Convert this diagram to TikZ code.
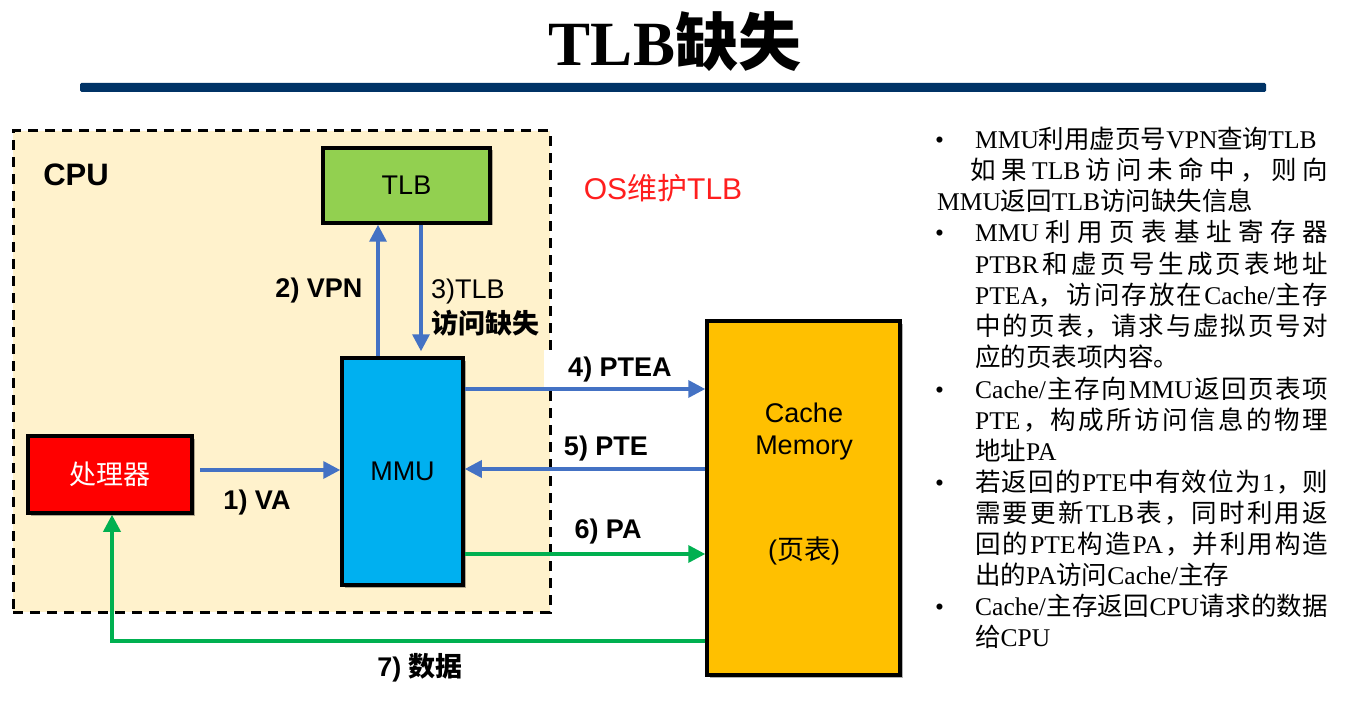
\documentclass[tikz,border=0pt]{standalone}
\usepackage{fontspec}
\setmainfont{Liberation Sans}
\newfontfamily\serif{Liberation Serif}
\newfontfamily\cjk{Noto Sans CJK SC}
\usetikzlibrary{arrows.meta,shadows,calc}
\definecolor{navy}{RGB}{0,51,102}
\definecolor{cream}{RGB}{255,242,204}
\definecolor{tlbgreen}{RGB}{146,208,80}
\definecolor{mmublue}{RGB}{0,176,240}
\definecolor{cacheorange}{RGB}{255,192,0}
\definecolor{arrowblue}{RGB}{68,114,196}
\definecolor{arrowgreen}{RGB}{0,176,80}
\definecolor{osred}{RGB}{255,30,30}
% automatic switch to the CJK font for CJK characters
\XeTeXinterchartokenstate=1
\newXeTeXintercharclass\CJKcls
\makeatletter
\count@="3000
\loop \XeTeXcharclass\count@=\CJKcls \ifnum\count@<"303F \advance\count@ 1 \repeat
\count@="4E00
\loop \XeTeXcharclass\count@=\CJKcls \ifnum\count@<"9FFF \advance\count@ 1 \repeat
\count@="FF01
\loop \XeTeXcharclass\count@=\CJKcls \ifnum\count@<"FF5E \advance\count@ 1 \repeat
\makeatother
\XeTeXinterchartoks 0 \CJKcls = {\begingroup\cjk}
\XeTeXinterchartoks 4095 \CJKcls = {\begingroup\cjk}
\XeTeXinterchartoks \CJKcls 0 = {\endgroup}
\XeTeXinterchartoks \CJKcls 4095 = {\endgroup}
\newcommand\jl[2][353pt]{\makebox[#1][s]{\spaceskip=0pt plus 1fil minus 2pt\xspaceskip=0pt plus 1fil minus 2pt\relax #2}}
\tikzset{
  box/.style={draw=black, line width=3.5pt, inner sep=0pt,
    drop shadow={shadow xshift=2.5pt, shadow yshift=-2.5pt, fill=black, opacity=0.3},
    font=\fontsize{27}{32}\selectfont},
  cpubox/.style={draw=black, fill=cream, line width=3pt, dash pattern=on 10pt off 7pt, inner sep=0pt},
  barrow/.style={draw=arrowblue, line width=3.5pt, -{Triangle[length=17pt,width=17pt]}},
  garrow/.style={draw=arrowgreen, line width=3.5pt, -{Triangle[length=17pt,width=17pt]}},
  lbl/.style={font=\fontsize{27}{32}\selectfont\bfseries, inner sep=0pt},
  lblr/.style={font=\fontsize{27}{32}\selectfont, inner sep=0pt},
  side/.style={font=\serif\fontsize{25.5}{30}\selectfont, inner sep=0pt, anchor=base west},
}
\begin{document}
\begin{tikzpicture}[x=1pt,y=-1pt]
\useasboundingbox (0,0) rectangle (1354,703);
% title
\node[inner sep=0pt, font=\serif\bfseries\fontsize{63}{70}\selectfont] (title) at (675,42) {TLB缺失};
\node[fill=navy, minimum width=1186pt, minimum height=9pt, inner sep=0pt, rounded corners=1.5pt] (bar) at (673,87.5) {};
% CPU area
\node[cpubox, minimum width=537pt, minimum height=481pt] (cpu) at (281.5,371.5) {};
\node[lbl, font=\fontsize{31}{36}\selectfont\bfseries] (cputxt) at (76,175) {CPU};
\node[lbl, fill=white, minimum width=152pt, minimum height=40pt] (l4) at (620,370) {4) PTEA};
% boxes
\node[box, fill=tlbgreen, minimum width=167pt, minimum height=75pt] (tlb) at (406.5,185.5) {TLB};
\node[box, fill=mmublue, minimum width=121pt, minimum height=227pt] (mmu) at (402.5,471.5) {MMU};
\node[box, fill=red, text=white, minimum width=164pt, minimum height=77pt] (proc) at (110,474.5) {处理器};
\node[box, fill=cacheorange, minimum width=193pt, minimum height=354pt] (cache) at (803.5,498) {};
\node[lblr] (ct1) at (804,413) {Cache};
\node[lblr] (ct2) at (804,448) {Memory};
\node[lblr] (ct3) at (804,551) {(页表)};
\node[lblr, text=osred, font=\fontsize{30}{34}\selectfont] (os) at (663,188) {OS维护TLB};
% helper coordinates
\coordinate (r1) at (0,470);
\coordinate (r4) at (0,389);
\coordinate (r5) at (0,469);
\coordinate (r6) at (0,554);
\coordinate (r7) at (0,641);
\coordinate (c2) at (378,0);
\coordinate (c3) at (421,0);
\coordinate (c7) at (112,0);
% arrows
\draw[barrow, shorten <=6pt] (proc.east |- r1) -- (mmu.west |- r1);
\draw[barrow] (mmu.north -| c2) -- (tlb.south -| c2);
\draw[barrow, shorten >=5pt] (tlb.south -| c3) -- (mmu.north -| c3);
\draw[barrow] (mmu.east |- r4) -- (cache.west |- r4);
\draw[barrow] (cache.west |- r5) -- (mmu.east |- r5);
\draw[garrow] (mmu.east |- r6) -- (cache.west |- r6);
\draw[garrow] (cache.west |- r7) -- (c7 |- r7) -- (proc.south -| c7);
% labels
\node[lbl] (l1) at (257,503) {1) VA};
\node[lbl] (l2) at (319,291) {2) VPN};
\node[lblr, anchor=west] (l3a) at (431,292) {3)TLB};
\node[lbl, anchor=west] (l3b) at (431,323) {访问缺失};
\node[lbl] (l5) at (606,449) {5) PTE};
\node[lbl] (l6) at (608,532) {6) PA};
\node[lbl] (l7) at (420,668) {7) 数据};
% side text
\node[side] (b1) at (935,149) {•};
\node[side] (b2) at (935,242) {•};
\node[side] (b3) at (935,398) {•};
\node[side] (b4) at (935,491) {•};
\node[side] (b5) at (935,615) {•};
\node[side] (t1) at (975,149) {MMU利用虚页号VPN查询TLB};
\node[side] (t2) at (970,180) {\jl[358pt]{如 果 TLB 访 问 未 命 中 ， 则 向}};
\node[side] (t3) at (937,211) {MMU返回TLB访问缺失信息};
\node[side] (t4) at (975,242) {\jl{MMU 利 用 页 表 基 址 寄 存 器}};
\node[side] (t5) at (975,273) {\jl{PTBR 和 虚 页 号 生 成 页 表 地 址}};
\node[side] (t6) at (975,304) {\jl{PTEA， 访 问 存 放 在 Cache/主 存}};
\node[side] (t7) at (975,335) {\jl{中 的 页 表 ， 请 求 与 虚 拟 页 号 对}};
\node[side] (t8) at (975,366) {应的页表项内容。};
\node[side] (t9) at (975,398) {\jl{Cache/ 主 存 向 MMU 返 回 页 表 项}};
\node[side] (t10) at (975,429) {\jl{PTE ， 构 成 所 访 问 信 息 的 物 理}};
\node[side] (t11) at (975,460) {地址PA};
\node[side] (t12) at (975,491) {\jl{若 返 回 的 PTE 中 有 效 位 为 1 ， 则}};
\node[side] (t13) at (975,522) {\jl{需 要 更 新 TLB 表 ， 同 时 利 用 返}};
\node[side] (t14) at (975,553) {\jl{回 的 PTE 构 造 PA ， 并 利 用 构 造}};
\node[side] (t15) at (975,584) {出的PA访问Cache/主存};
\node[side] (t16) at (975,615) {\jl{Cache/ 主 存 返 回 CPU 请 求 的 数 据}};
\node[side] (t17) at (975,646) {给CPU};
\end{tikzpicture}
\end{document}
